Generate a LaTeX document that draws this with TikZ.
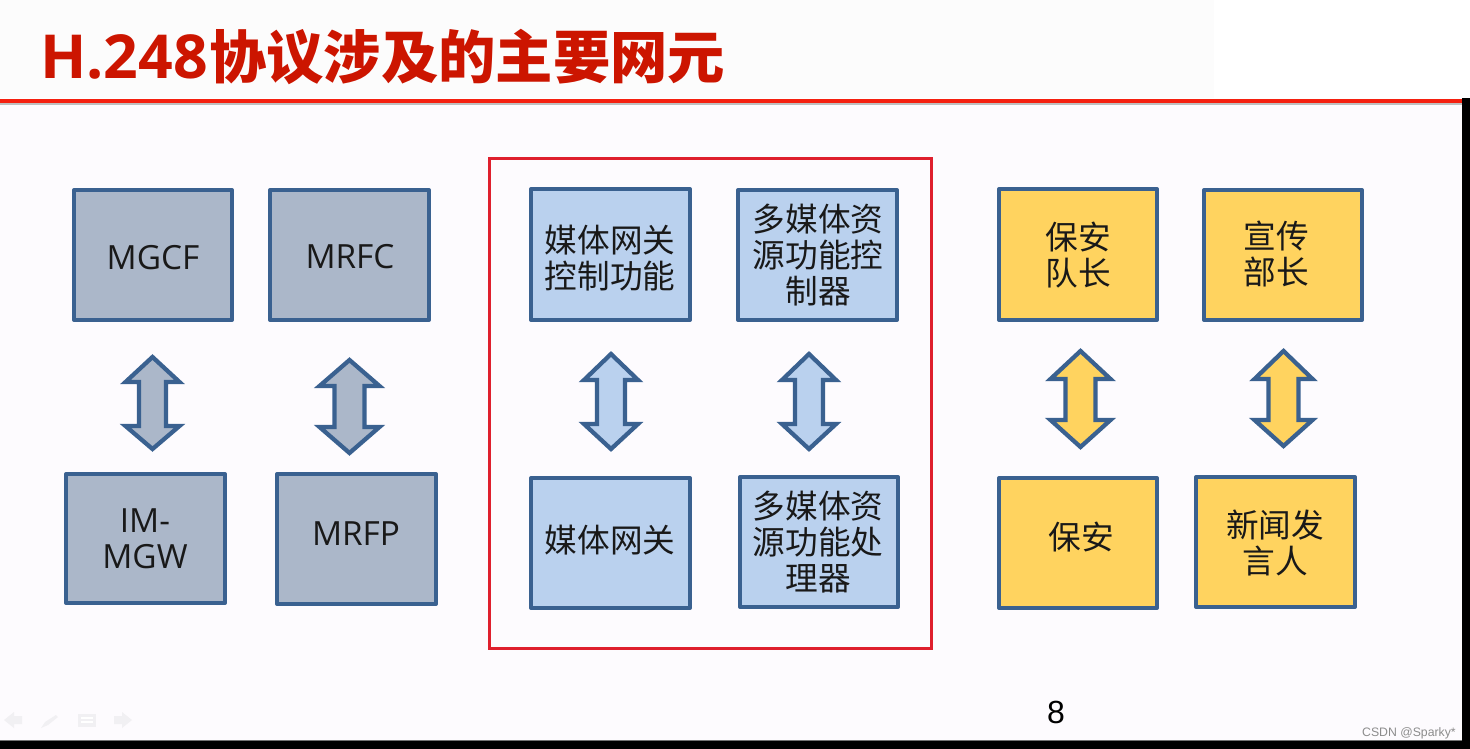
\documentclass[tikz,border=0pt]{standalone}
\usepackage{fontspec}
\setmainfont{Noto Sans CJK SC}
\newfontfamily\latinf{Open Sans}
\newfontfamily\arialf{Liberation Sans}
\definecolor{edgeblue}{HTML}{3A6190}
\definecolor{greyfill}{HTML}{ABB7C9}
\definecolor{bluefill}{HTML}{BAD1EE}
\definecolor{yellowfill}{HTML}{FFD35F}
\definecolor{slidebg}{HTML}{FDFBFE}
\definecolor{titlered}{HTML}{CC1500}
\definecolor{linered}{HTML}{F5200F}
\definecolor{iconfill}{HTML}{F1F0F3}
\definecolor{framered}{HTML}{DF1F2D}
\newcommand{\blockarrow}[8]{% cx top headbase footbase bottom headhalf neckhalf fill
  \draw[edgeblue,line width=3.2pt,line join=miter,fill=#8]
    (#1,#2) -- (#1+#6,#3) -- (#1+#7,#3) -- (#1+#7,#4) -- (#1+#6,#4) -- (#1,#5)
    -- (#1-#6,#4) -- (#1-#7,#4) -- (#1-#7,#3) -- (#1-#6,#3) -- cycle;}
\newcommand{\boxat}[6]{% name x0 y0 x1 y1 style
  \node[#6,minimum width={(#4-#2-2)*0.75pt},minimum height={(#5-#3-2)*0.75pt}] (#1) at ({(#2+#4)/2},{(#3+#5)/2}) {};}
\tikzset{
  greybox/.style={draw=edgeblue,line width=3pt,fill=greyfill,inner sep=0pt,line join=round},
  bluebox/.style={draw=edgeblue,line width=3pt,fill=bluefill,inner sep=0pt,line join=round},
  yellowbox/.style={draw=edgeblue,line width=3pt,fill=yellowfill,inner sep=0pt,line join=round},
  lbl/.style={font=\fontsize{24.5pt}{27pt}\selectfont,text=black!90,align=center,inner sep=0pt},
  latinlbl/.style={font=\latinf\fontsize{25pt}{27pt}\selectfont,text=black!90,align=center,inner sep=0pt},
}
\begin{document}
\begin{tikzpicture}[x=0.75pt,y=-0.75pt]
\useasboundingbox (0,0) rectangle (1470,749);
% background
\fill[white] (0,0) rectangle (1470,749);
\fill[slidebg] (0,102) rectangle (1462,741);
\fill[black!1] (0,0) rectangle (1214,98);
\fill[black] (1462,98) rectangle (1470,749);
\fill[black] (0,741) rectangle (1470,749);
\draw[black!55,line width=1pt] (0,740.5) -- (1462,740.5);
\draw[black!25,line width=2pt] (0,104) -- (1462,104);
\draw[linered,line width=2.4pt] (0,101) -- (1462,101);
% title
\node[anchor=west,inner sep=0pt,text=titlered] (title) at (40,57)
  {{\latinf\bfseries\fontsize{45.5pt}{45.5pt}\selectfont H.248}\hspace{1pt}{\fontsize{43pt}{43pt}\selectfont\bfseries 协议涉及的主要网元}};
% red frame
\node[draw=framered,line width=2.2pt,minimum width={442*0.75pt},minimum height={490*0.75pt},inner sep=0pt] (frame) at (710.5,403.5) {};
% boxes
\boxat{mgcf}{73}{189}{233}{321}{greybox}
\boxat{mrfc}{269}{189}{430}{321}{greybox}
\boxat{imgw}{65}{473}{226}{604}{greybox}
\boxat{mrfp}{276}{473}{437}{605}{greybox}
\boxat{mgcfz}{530}{188}{691}{321}{bluebox}
\boxat{mrfcz}{737}{189}{898}{321}{bluebox}
\boxat{mgwz}{530}{477}{691}{609}{bluebox}
\boxat{mrfpz}{739}{476}{899}{608}{bluebox}
\boxat{cap}{998}{188}{1158}{321}{yellowbox}
\boxat{chief}{1203}{189}{1363}{321}{yellowbox}
\boxat{guard}{998}{477}{1158}{609}{yellowbox}
\boxat{spoke}{1195}{476}{1356}{608}{yellowbox}
% labels
\node[latinlbl] (t1) at (153,258) {MGCF};
\node[latinlbl] (t2) at (350,257) {MRFC};
\node[latinlbl] (t3) at (145,539) {IM-\\MGW};
\node[latinlbl] (t4) at (356,534) {MRFP};
\node[lbl] (t5) at (610,258) {媒体网关\\控制功能};
\node[lbl] (t6) at (818,255) {多媒体资\\源功能控\\制器};
\node[lbl] (t7) at (610,540) {媒体网关};
\node[lbl] (t8) at (818,542) {多媒体资\\源功能处\\理器};
\node[lbl] (t9) at (1078,255) {保安\\队长};
\node[lbl] (t10) at (1276,254) {宣传\\部长};
\node[lbl] (t11) at (1081,537) {保安};
\node[lbl] (t12) at (1275,543) {新闻发\\言人};
% block arrows
\blockarrow{152.5}{357}{382}{426}{449}{27}{13.5}{greyfill}
\blockarrow{349.5}{360}{386}{427}{453}{30}{15}{greyfill}
\blockarrow{611}{354}{380}{424}{449}{27}{14}{bluefill}
\blockarrow{809}{354}{380}{424}{449}{27}{14}{bluefill}
\blockarrow{1080.5}{351}{379}{420}{447}{30}{15}{yellowfill}
\blockarrow{1283.5}{351}{379}{420}{446}{29}{15}{yellowfill}
% page number
\node[font=\arialf\fontsize{24pt}{24pt}\selectfont,text=black,inner sep=0pt] (pg) at (1056,712) {8};
\node[anchor=east,font=\arialf\fontsize{9.2pt}{10pt}\selectfont,text=black!45,inner sep=0pt] (wm) at (1456,733) {CSDN @Sparky*};
% navigation icons
\fill[iconfill] (4,720) -- (14,712) -- (14,716) -- (22,716) -- (22,724) -- (14,724) -- (14,728) -- cycle;
\fill[iconfill] (41,728) -- (45,722) -- (56,715) -- (58,717) -- (48,725) -- cycle;
\fill[iconfill] (78,714) rectangle (96,727);
\draw[white,line width=.8pt] (81,718) -- (93,718) (81,722) -- (93,722);
\fill[iconfill] (114,716) -- (122,716) -- (122,712) -- (132,720) -- (122,728) -- (122,724) -- (114,724) -- cycle;
\end{tikzpicture}
\end{document}
